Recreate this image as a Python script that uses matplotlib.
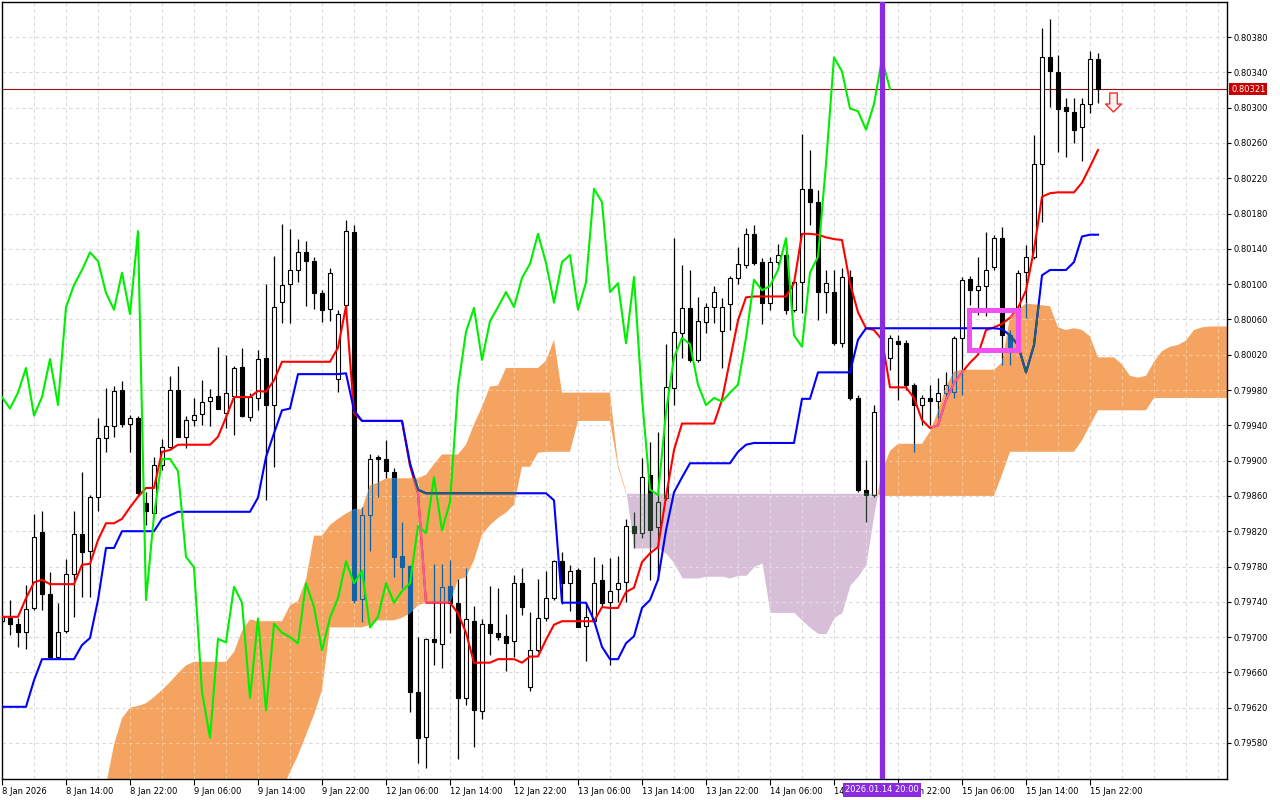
import numpy as np
import matplotlib
matplotlib.use("Agg")
import matplotlib.pyplot as plt
from matplotlib.path import Path
from matplotlib.patches import Rectangle
from matplotlib.transforms import blended_transform_factory

# ==========================================
# Data - H1 candles, prices in points (1 point = 0.00001)
# ==========================================
open_pts = [
    79718, 79722, 79715, 79706, 79733, 79819, 79749, 79678, 79707, 79772,
    79817, 79798, 79859, 79926, 79939, 79980, 79942, 79948, 79852, 79841,
    79895, 79915, 79980, 79927, 79946, 79953, 79968, 79973, 79954, 79973,
    80006, 79949, 79971, 80016, 79963, 80080, 80100, 80116, 80136, 80126,
    80090, 80072, 79993, 80076, 80159, 79743, 79838, 79904, 79902, 79887,
    79792, 79781, 79638, 79587, 79698, 79692, 79758, 79739, 79631, 79718,
    79616, 79715, 79705, 79701, 79696, 79761, 79644, 79685, 79722, 79744,
    79786, 79761, 79776, 79713, 79718, 79765, 79740, 79755, 79762, 79826,
    79818, 79884, 79825, 79858, 79982, 80045, 80073, 80014, 80057, 80074,
    80047, 80077, 80107, 80122, 80157, 80125, 80079, 80125, 80133, 80071,
    80102, 80208, 80193, 80091, 80091, 80033, 80108, 79971, 79867, 79861,
    79955, 80016, 80036, 80033, 79986, 79963, 79971, 79967, 79977, 79978,
    80039, 80106, 80093, 80098, 80119, 80152, 80042, 80029, 80114, 80131,
    80236, 80357, 80340, 80301, 80295, 80278, 80304, 80355]
high_pts = [
    79726, 79742, 79722, 79759, 79840, 79843, 79774, 79739, 79789, 79843,
    79887, 79861, 79948, 79982, 79985, 79990, 79952, 79951, 79864, 79904,
    79925, 79996, 80007, 79951, 79971, 79991, 79981, 80029, 80020, 80007,
    80028, 79977, 80025, 80100, 80132, 80168, 80162, 80151, 80149, 80131,
    80093, 80118, 80071, 80173, 80167, 79847, 79908, 79906, 79923, 79892,
    79830, 79782, 79700, 79699, 79783, 79783, 79787, 79766, 79778, 79735,
    79721, 79758, 79756, 79726, 79770, 79778, 79728, 79766, 79775, 79787,
    79796, 79782, 79778, 79739, 79791, 79783, 79790, 79792, 79834, 79842,
    79903, 79921, 79932, 80032, 80152, 80122, 80116, 80085, 80079, 80098,
    80084, 80109, 80142, 80164, 80167, 80130, 80131, 80145, 80147, 80105,
    80270, 80252, 80207, 80116, 80116, 80118, 80116, 79974, 79901, 79963,
    80037, 80042, 80042, 80037, 79988, 79974, 79986, 79994, 80000, 80041,
    80108, 80109, 80131, 80159, 80156, 80165, 80048, 80116, 80144, 80269,
    80390, 80400, 80360, 80311, 80311, 80311, 80364, 80362]
low_pts = [
    79715, 79702, 79689, 79687, 79731, 79731, 79676, 79676, 79705, 79723,
    79745, 79745, 79843, 79910, 79927, 79938, 79910, 79860, 79827, 79838,
    79889, 79914, 79927, 79914, 79939, 79940, 79939, 79959, 79937, 79929,
    79949, 79945, 79957, 79855, 79893, 80056, 80056, 80102, 80075, 80072,
    80057, 80058, 79978, 80071, 79739, 79717, 79798, 79859, 79880, 79768,
    79756, 79615, 79557, 79552, 79668, 79665, 79705, 79562, 79623, 79576,
    79607, 79680, 79697, 79662, 79678, 79725, 79639, 79683, 79718, 79742,
    79738, 79730, 79711, 79673, 79716, 79734, 79668, 79740, 79740, 79801,
    79812, 79765, 79765, 79855, 79963, 80016, 80012, 80012, 80045, 80056,
    80005, 80048, 80100, 80118, 80122, 80055, 80071, 80122, 80066, 80068,
    80067, 80167, 80059, 80067, 80031, 80029, 79969, 79864, 79830, 79859,
    79952, 80003, 79969, 79980, 79910, 79940, 79940, 79948, 79971, 79971,
    79974, 80076, 80065, 80064, 80116, 80008, 80008, 80026, 80062, 80128,
    80170, 80301, 80250, 80244, 80260, 80240, 80294, 80305]
close_pts = [
    79723, 79715, 79706, 79732, 79813, 79749, 79678, 79706, 79772, 79817,
    79796, 79859, 79926, 79939, 79979, 79942, 79948, 79863, 79843, 79895,
    79915, 79980, 79927, 79946, 79952, 79966, 79972, 79959, 79977, 80005,
    79951, 79972, 80015, 79963, 80074, 80099, 80116, 80136, 80126, 80090,
    80071, 80113, 80066, 80160, 79742, 79838, 79902, 79902, 79888, 79791,
    79779, 79638, 79586, 79698, 79694, 79757, 79739, 79631, 79721, 79617,
    79715, 79705, 79700, 79693, 79761, 79734, 79685, 79722, 79744, 79786,
    79761, 79775, 79711, 79723, 79761, 79739, 79752, 79761, 79826, 79818,
    79881, 79821, 79853, 79983, 80046, 80073, 80014, 80058, 80074, 80091,
    80074, 80107, 80123, 80157, 80124, 80079, 80125, 80133, 80071, 80102,
    80208, 80193, 80091, 80101, 80033, 80108, 79971, 79867, 79861, 79955,
    80017, 80039, 80032, 79986, 79963, 79971, 79967, 79977, 79986, 80039,
    80105, 80093, 80098, 80116, 80152, 80042, 80029, 80113, 80131, 80236,
    80357, 80341, 80299, 80296, 80275, 80304, 80355, 80321]

# Ichimoku lines
tenkan_pts = [
    79723, 79723, 79723, 79744, 79762, 79765, 79760, 79760, 79760, 79760,
    79782, 79783, 79810, 79829, 79829, 79834, 79847, 79859, 79869, 79869,
    79910, 79912, 79918, 79918, 79918, 79918, 79918, 79927, 79949, 79972,
    79972, 79972, 79979, 79978, 79991, 80012, 80012, 80012, 80012, 80012,
    80012, 80012, 80028, 80075, 79954, 79945, 79945, 79945, 79945, 79945,
    79945, 79894, 79863, 79739, 79739, 79739, 79739, 79727, 79705, 79671,
    79671, 79671, 79675, 79675, 79675, 79671, 79678, 79678, 79697, 79714,
    79718, 79718, 79718, 79718, 79718, 79734, 79733, 79733, 79751, 79756,
    79785, 79795, 79802, 79859, 79912, 79942, 79942, 79942, 79942, 79942,
    79969, 80014, 80059, 80085, 80086, 80086, 80086, 80086, 80086, 80101,
    80157, 80157, 80156, 80153, 80151, 80150, 80101, 80068, 80050, 80048,
    80037, 79983, 79983, 79983, 79971, 79946, 79937, 79940, 79969, 79988,
    80000, 80011, 80020, 80048, 80051, 80055, 80062, 80073, 80093, 80139,
    80199, 80203, 80204, 80204, 80204, 80215, 80233, 80252]
kijun_pts = [
    79621, 79621, 79621, 79621, 79651, 79675, 79675, 79675, 79675, 79675,
    79691, 79699, 79742, 79801, 79801, 79820, 79820, 79820, 79820, 79820,
    79834, 79838, 79842, 79842, 79842, 79842, 79842, 79842, 79842, 79842,
    79842, 79842, 79858, 79904, 79931, 79957, 79959, 79998, 79998, 79998,
    79998, 79998, 79998, 79999, 79957, 79945, 79945, 79945, 79945, 79945,
    79945, 79897, 79867, 79863, 79863, 79863, 79863, 79863, 79863, 79863,
    79863, 79863, 79863, 79863, 79863, 79863, 79863, 79863, 79863, 79855,
    79739, 79739, 79739, 79739, 79719, 79689, 79675, 79675, 79693, 79701,
    79733, 79742, 79765, 79821, 79864, 79881, 79897, 79897, 79897, 79897,
    79897, 79897, 79910, 79918, 79920, 79920, 79920, 79920, 79920, 79920,
    79970, 79970, 80000, 80000, 80000, 80000, 80000, 80037, 80050, 80050,
    80050, 80050, 80050, 80050, 80050, 80050, 80050, 80050, 80050, 80050,
    80050, 80050, 80050, 80050, 80050, 80049, 80042, 80031, 80000, 80031,
    80110, 80116, 80116, 80116, 80125, 80154, 80156, 80156]
chikou_pts = [
    79972, 79959, 79977, 80005, 79951, 79972, 80015, 79963, 80074, 80099,
    80116, 80136, 80126, 80090, 80071, 80113, 80066, 80160, 79742, 79838,
    79902, 79902, 79888, 79791, 79779, 79638, 79586, 79698, 79694, 79757,
    79739, 79631, 79721, 79617, 79715, 79705, 79700, 79693, 79761, 79734,
    79685, 79722, 79744, 79786, 79761, 79775, 79711, 79723, 79761, 79739,
    79752, 79761, 79826, 79818, 79881, 79821, 79853, 79983, 80046, 80073,
    80014, 80058, 80074, 80091, 80074, 80107, 80123, 80157, 80124, 80079,
    80125, 80133, 80071, 80102, 80208, 80193, 80091, 80101, 80033, 80108,
    79971, 79867, 79861, 79955, 80017, 80039, 80032, 79986, 79963, 79971,
    79967, 79977, 79986, 80039, 80105, 80093, 80098, 80116, 80152, 80042,
    80029, 80113, 80131, 80236, 80357, 80341, 80299, 80296, 80275, 80304,
    80355, 80321]
span_a_pts = [
    79480, 79480, 79480, 79480, 79480, 79480, 79480, 79480, 79480, 79480,
    79480, 79480, 79480, 79532, 79578, 79608, 79620, 79622, 79625, 79632,
    79640, 79649, 79659, 79668, 79672, 79672, 79672, 79672, 79672, 79683,
    79707, 79720, 79718, 79718, 79718, 79718, 79736, 79741, 79765, 79815,
    79815, 79827, 79834, 79840, 79845, 79845, 79872, 79875, 79880, 79880,
    79880, 79880, 79880, 79884, 79896, 79907, 79907, 79907, 79918, 79941,
    79961, 79984, 79985, 80005, 80005, 80005, 80005, 80005, 80013, 80037,
    79977, 79977, 79977, 79977, 79977, 79977, 79977, 79896, 79865, 79801,
    79801, 79801, 79801, 79795, 79784, 79767, 79767, 79767, 79769, 79769,
    79769, 79767, 79770, 79770, 79780, 79784, 79728, 79728, 79728, 79728,
    79719, 79711, 79704, 79704, 79722, 79728, 79759, 79769, 79783, 79840,
    79888, 79911, 79919, 79919, 79919, 79919, 79933, 79956, 79984, 80001,
    80003, 80003, 80003, 80003, 80003, 80011, 80063, 80071, 80078, 80077,
    80076, 80075, 80051, 80048, 80050, 80048, 80041, 80017, 80017, 80017,
    80009, 79996, 79994, 79996, 80012, 80024, 80029, 80031, 80036, 80048,
    80051, 80052, 80052, 80052, 80052]
span_b_pts = [
    79480, 79480, 79480, 79480, 79480, 79480, 79480, 79480, 79480, 79480,
    79480, 79480, 79480, 79480, 79480, 79480, 79480, 79480, 79480, 79480,
    79480, 79480, 79480, 79480, 79480, 79480, 79480, 79480, 79480, 79480,
    79480, 79480, 79480, 79480, 79480, 79527, 79547, 79566, 79589, 79612,
    79640, 79711, 79711, 79711, 79711, 79711, 79714, 79719, 79719, 79719,
    79722, 79727, 79736, 79739, 79739, 79739, 79739, 79765, 79768, 79787,
    79816, 79827, 79835, 79841, 79850, 79893, 79893, 79909, 79910, 79910,
    79910, 79910, 79945, 79945, 79945, 79945, 79945, 79893, 79863, 79863,
    79863, 79863, 79863, 79863, 79863, 79863, 79863, 79863, 79863, 79863,
    79863, 79863, 79863, 79863, 79863, 79863, 79863, 79863, 79863, 79863,
    79863, 79863, 79863, 79863, 79863, 79863, 79863, 79863, 79863, 79863,
    79860, 79860, 79860, 79860, 79860, 79860, 79860, 79860, 79860, 79860,
    79860, 79860, 79860, 79860, 79860, 79884, 79910, 79910, 79910, 79910,
    79910, 79910, 79910, 79910, 79910, 79923, 79940, 79957, 79957, 79957,
    79957, 79957, 79957, 79957, 79971, 79971, 79971, 79971, 79971, 79971,
    79971, 79971, 79971, 79971, 79971]

time_labels = ["8 Jan 2026", "8 Jan 14:00", "8 Jan 22:00", "9 Jan 06:00", "9 Jan 14:00",
               "9 Jan 22:00", "12 Jan 06:00", "12 Jan 14:00", "12 Jan 22:00", "13 Jan 06:00",
               "13 Jan 14:00", "13 Jan 22:00", "14 Jan 06:00", "14 Jan 14:00", "14 Jan 22:00",
               "15 Jan 06:00", "15 Jan 14:00", "15 Jan 22:00"]
BARS_PER_LABEL = 8

last_price = 0.80321
vline_bar = 110
vline_text = "2026.01.14 20:00"
box_bars = (120.9, 127.0)
box_prices = (0.80025, 0.80071)
arrow_bar = 138.9
arrow_price = 0.80306

# ==========================================
# Setup
# ==========================================
PT = 1e-5
o = np.array(open_pts) * PT
h = np.array(high_pts) * PT
l = np.array(low_pts) * PT
c = np.array(close_pts) * PT
tenkan = np.array(tenkan_pts) * PT
kijun = np.array(kijun_pts) * PT
chikou = np.array(chikou_pts) * PT
span_a = np.array(span_a_pts) * PT
span_b = np.array(span_b_pts) * PT
bars = np.arange(len(o))

plt.rcParams['font.family'] = 'DejaVu Sans'
fig = plt.figure(figsize=(12.8, 8), dpi=100)
ax = fig.add_axes([2 / 1280, 21 / 800, 1225 / 1280, 777 / 800])
XLIM = (0, 1225 / 8)
YLIM = (0.795392, 0.804197)
ax.set_xlim(*XLIM)
ax.set_ylim(*YLIM)

price_ticks = np.round(np.arange(0.79580, 0.80381, 0.0004), 5)
grid_x = np.arange(4, 154, 4)
DASH = (0, (3, 3))


def grid(color, z, clip=None):
    arts = [ax.vlines(grid_x, *YLIM, colors=color, lw=0.8, linestyles=DASH, zorder=z),
            ax.hlines(price_ticks, *XLIM, colors=color, lw=0.8, linestyles=DASH, zorder=z)]
    if clip is not None:
        for a in arts:
            a.set_clip_path(clip, ax.transData)


def candles(ink, up_face, z, clip=None):
    top = np.maximum(o, c)
    bot = np.minimum(o, c)
    arts = [ax.vlines(bars, top, h, colors=ink, lw=0.9, zorder=z),
            ax.vlines(bars, l, bot, colors=ink, lw=0.9, zorder=z)]
    faces = [up_face if cc > oo else ink for oo, cc in zip(o, c)]
    bc = ax.bar(bars, top - bot, 0.58, bot, color=faces, edgecolor=ink,
                linewidth=0.8, zorder=z)
    arts += list(bc.patches)
    if clip is not None:
        for a in arts:
            a.set_clip_path(clip, ax.transData)


# grid and plain candles
grid('#dadada', 1)
ax.axhline(last_price, color='#9a1010', lw=0.8, zorder=1.2)
candles('black', 'white', 1.5)

# kumo
xs = np.arange(len(span_a))
orange = ax.fill_between(xs, span_a, span_b, where=span_a >= span_b, interpolate=True,
                         color='#f4a460', lw=0, zorder=2)
purple = ax.fill_between(xs, span_a, span_b, where=span_a < span_b, interpolate=True,
                         color='#d8bfd8', lw=0, zorder=2)
orange_clip = Path.make_compound_path(*orange.get_paths())
purple_clip = Path.make_compound_path(*purple.get_paths())

grid('#f8c898', 2.1, orange_clip)
grid('#e6d8e6', 2.1, purple_clip)
candles('#1462a6', 'none', 2.2, orange_clip)
candles('#22392a', 'none', 2.2, purple_clip)

# tenkan / kijun / chikou
ax.plot(bars, tenkan, color='#ff0000', lw=1.5, zorder=3)
ax.plot(bars, kijun, color='#0000ff', lw=1.5, zorder=3)
ax.plot(bars[:len(chikou)], chikou, color='#00ee00', lw=1.5, zorder=3)
t2, = ax.plot(bars, tenkan, color='#f2609e', lw=1.5, zorder=3.1)
t2.set_clip_path(orange_clip, ax.transData)
k2, = ax.plot(bars, kijun, color='#1d6070', lw=1.5, zorder=3.1)
k2.set_clip_path(orange_clip, ax.transData)

# objects
ax.axvline(vline_bar, color='#8a2be2', lw=3.8, zorder=4)
ax.add_patch(Rectangle((box_bars[0], box_prices[0]), box_bars[1] - box_bars[0],
                       box_prices[1] - box_prices[0], fill=False, ec='#f050f0',
                       lw=3.6, zorder=4))
arrow = Path([(-0.2, 0.5), (0.2, 0.5), (0.2, -0.08), (0.42, -0.08), (0, -0.5),
              (-0.42, -0.08), (-0.2, -0.08), (-0.2, 0.5)],
             [Path.MOVETO] + [Path.LINETO] * 6 + [Path.CLOSEPOLY])
ax.plot([arrow_bar], [arrow_price], ls='none', marker=arrow, ms=13.7,
        mfc='#fff2f2', mec='#ff2a2a', mew=1.0, zorder=4)

# axes
for sp in ax.spines.values():
    sp.set_color('black')
    sp.set_linewidth(1.0)
ax.yaxis.tick_right()
ax.set_yticks(price_ticks)
ax.set_yticklabels([f"{p:.5f}" for p in price_ticks])
ax.tick_params(axis='y', direction='out', length=3, width=0.8, pad=1.5, labelsize=6)
ax.set_xticks(np.arange(len(time_labels)) * BARS_PER_LABEL)
ax.set_xticklabels(time_labels)
for lbl in ax.get_xticklabels():
    lbl.set_horizontalalignment('left')
ax.tick_params(axis='x', direction='out', length=4, width=0.8, pad=1.5, labelsize=6)

right_tr = blended_transform_factory(ax.transAxes, ax.transData)
ax.text(1.0 + 4 / 1225, last_price, "0.80321", transform=right_tr, ha='left', va='center',
        color='white', fontsize=6, zorder=6, clip_on=False,
        bbox=dict(boxstyle='square,pad=0.2', fc='#c80000', ec='none'))
bottom_tr = blended_transform_factory(ax.transData, ax.transAxes)
ax.text(vline_bar, -11 / 777, vline_text, transform=bottom_tr, ha='center', va='center',
        color='white', fontsize=6, zorder=6, clip_on=False,
        bbox=dict(boxstyle='square,pad=0.25', fc='#8a2be2', ec='none'))

fig.savefig('out.png', dpi=100)
